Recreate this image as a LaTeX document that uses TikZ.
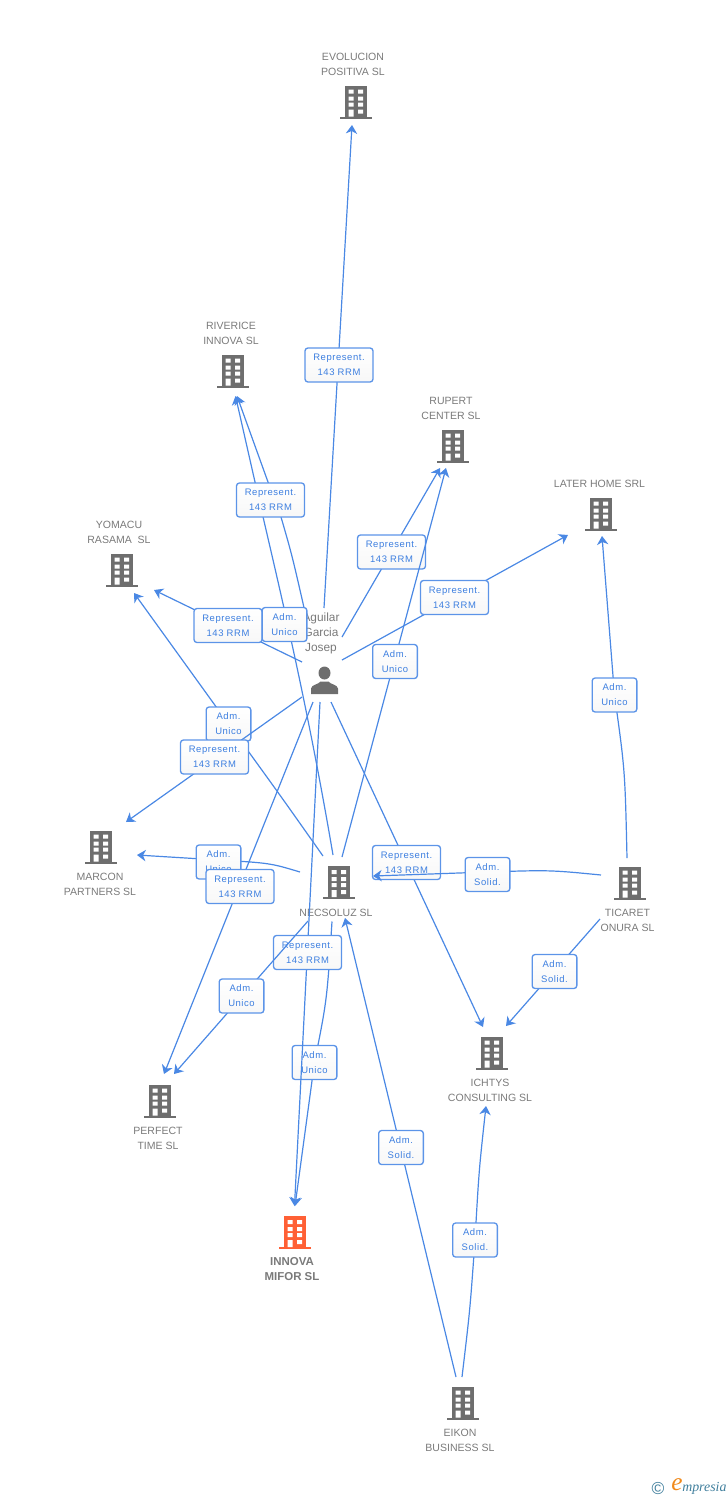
\documentclass[tikz,border=0pt]{standalone}
\usepackage{fontspec}
\setmainfont{Liberation Sans}
\newfontfamily\lblfont[LetterSpace=6]{Liberation Sans}
\newfontfamily\logofont{Liberation Serif}
\usetikzlibrary{arrows.meta,calc}
\definecolor{edgeblue}{HTML}{4A88E4}
\definecolor{textblue}{HTML}{3D7FE0}
\definecolor{boxblue}{HTML}{5C94E8}
\definecolor{capgray}{HTML}{7A7A7A}
\definecolor{icongray}{HTML}{6E6E6E}
\definecolor{iconred}{HTML}{FF6035}
\definecolor{logoteal}{HTML}{3F7E9C}
\definecolor{logoorange}{HTML}{F08A1D}
\tikzset{
  edgeline/.style={draw=edgeblue,line width=0.9pt,-{Stealth[length=6.5pt,width=8.5pt,inset=2pt]}},
  labbox/.style={draw=boxblue,line width=1pt,rounded corners=2.2pt,top color=white,bottom color=black!3,
    inner sep=0pt,minimum height=25.5pt,align=center,text=textblue,
    font=\lblfont\fontsize{7.1pt}{11.25pt}\selectfont},
  repbox/.style={labbox,minimum width=51pt},
  admbox/.style={labbox,minimum width=33.5pt},
  captxt/.style={align=center,text=capgray,inner sep=0pt,font=\fontsize{7.9pt}{11.25pt}\selectfont},
  captxtb/.style={captxt,font=\bfseries\fontsize{8.6pt}{11.25pt}\selectfont},
  captxtp/.style={captxt,font=\fontsize{8.9pt}{11.25pt}\selectfont},
  bldg/.style={inner sep=0pt,minimum width=24pt,minimum height=24.75pt,path picture={
    \begin{scope}[shift={(path picture bounding box.center)}]
      \fill[#1] (-11,-16.5) rectangle (11,14.5);
      \fill[#1] (-16,14.5) rectangle (16,16.5);
      \fill[white] (-7.5,-12.5) rectangle (-2.5,-8.5) (2,-12.5) rectangle (7,-8.5)
                   (-7.5,-5.5) rectangle (-2.5,-1.5) (2,-5.5) rectangle (7,-1.5)
                   (-7.5,0.5) rectangle (-2.5,4.5) (2,0.5) rectangle (7,4.5)
                   (-7.5,7.5) rectangle (-2.5,14.5) (2,7.5) rectangle (7,11.5);
    \end{scope}}},
  persona/.style={inner sep=0pt,minimum width=21pt,minimum height=21pt,path picture={
    \begin{scope}[shift={(path picture bounding box.center)}]
      \fill[icongray] (0,-7.5) ellipse (6 and 6.5);
      \fill[icongray] (-13.5,13.5) -- (-13.5,8) .. controls (-13,4) and (-6,4) .. (-4,1) -- (4,1)
        .. controls (6,4) and (13,4) .. (13.5,8) -- (13.5,13.5) -- cycle;
    \end{scope}}}
}
\begin{document}
\begin{tikzpicture}[x=0.75pt,y=-0.75pt]
\useasboundingbox (0,0) rectangle (728,1500);
% icons
\node[bldg=icongray] (evol) at (356,102) {};
\node[bldg=icongray] (riv) at (233,371) {};
\node[bldg=icongray] (rup) at (453,446) {};
\node[bldg=icongray] (later) at (601,514) {};
\node[bldg=icongray] (yom) at (122,570) {};
\node[bldg=icongray] (mar) at (101,847) {};
\node[bldg=icongray] (nec) at (339,882.5) {};
\node[bldg=icongray] (tic) at (630,883) {};
\node[bldg=icongray] (ich) at (492,1053) {};
\node[bldg=icongray] (per) at (160,1101) {};
\node[bldg=iconred] (inn) at (295,1232.5) {};
\node[bldg=icongray] (eik) at (463,1403) {};
\node[persona] (pers) at (324.5,680.5) {};
% captions
\node[captxt] (cevol) at (353,64) {EVOLUCION\\POSITIVA SL};
\node[captxt] (criv) at (231,333) {RIVERICE\\INNOVA SL};
\node[captxt] (crup) at (451,408) {RUPERT\\CENTER SL};
\node[captxt] (clater) at (599.5,483.5) {LATER HOME SRL};
\node[captxt] (cyom) at (119,532) {YOMACU\\RASAMA\ \ SL};
\node[captxt] (cmar) at (100,884) {MARCON\\PARTNERS SL};
\node[captxt] (cnec) at (336,912.5) {NECSOLUZ SL};
\node[captxt] (ctic) at (627.5,920) {TICARET\\ONURA SL};
\node[captxt] (cich) at (490,1090) {ICHTYS\\CONSULTING SL};
\node[captxt] (cper) at (158,1138) {PERFECT\\TIME SL};
\node[captxtb] (cinn) at (292,1269.5) {INNOVA\\MIFOR SL};
\node[captxt] (ceik) at (460,1440) {EIKON\\BUSINESS SL};
\node[captxtp] (cpers) at (321,633.5) {Aguilar\\Garcia\\Josep};
% label positions
\coordinate (pEvol) at (339,365);
\coordinate (pRiv) at (270.5,500);
\coordinate (pRup) at (391.5,552);
\coordinate (pLater) at (454.5,597.5);
\coordinate (pYom) at (228,625.5);
\coordinate (pMar) at (214.5,757);
\coordinate (pPer) at (240,886.5);
\coordinate (pIch) at (406.5,862.5);
\coordinate (pInn) at (307.5,952.5);
\coordinate (nRiv) at (284.5,624.5);
\coordinate (nRup) at (395,661.5);
\coordinate (nYom) at (228.5,724);
\coordinate (nMar) at (218.5,862);
\coordinate (nPer) at (241.5,996);
\coordinate (nInn) at (314.5,1062.5);
\coordinate (tNec) at (487.5,874.5);
\coordinate (tIch) at (554.5,971.5);
\coordinate (tLat) at (614.5,695);
\coordinate (eNec) at (401,1147.5);
\coordinate (eIch) at (475,1240);
% connectors and labels
\draw[edgeline] ($(pers)+(-0.5,-72.5)$) -- ($(evol)+(-4,23)$);
\node[repbox] (lEvol) at (pEvol) {Represent.\\143 RRM};
\draw[edgeline] ($(pers)+(-19.5,-68.5)$) .. controls (292,555) .. (281,517) -- (268,482) -- ($(riv)+(4,25)$);
\draw[edgeline] ($(nec)+(-6,-27.5)$) .. controls (305,690) and (275,570) .. (255,482) -- ($(riv)+(2.5,25)$);
\node[repbox] (lRiv) at (pRiv) {Represent.\\143 RRM};
\draw[edgeline] ($(pers)+(17.5,-43.5)$) -- ($(rup)+(-13,22)$);
\node[repbox] (lRup) at (pRup) {Represent.\\143 RRM};
\draw[edgeline] ($(pers)+(17.5,-20.5)$) -- ($(later)+(-33,21)$);
\node[repbox] (lLater) at (pLater) {Represent.\\143 RRM};
\draw[edgeline] ($(pers)+(-22.5,-18.5)$) -- ($(yom)+(32,20)$);
\node[repbox] (lYom) at (pYom) {Represent.\\143 RRM};
\node[admbox] (aRiv) at (nRiv) {Adm.\\Unico};
\draw[edgeline] ($(nec)+(3,-25.5)$) -- ($(rup)+(-7,22)$);
\node[admbox] (aRup) at (nRup) {Adm.\\Unico};
\draw[edgeline] ($(nec)+(-16,-26.5)$) .. controls (280,795) .. (nYom) -- ($(yom)+(12,23)$);
\node[admbox] (aYom) at (nYom) {Adm.\\Unico};
\draw[edgeline] ($(pers)+(-22.5,16.5)$) -- ($(mar)+(25,-25)$);
\node[repbox] (lMar) at (pMar) {Represent.\\143 RRM};
\draw[edgeline] ($(nec)+(-39,-10.5)$) .. controls (270,863) .. ($(nMar)+(0,-2)$) -- ($(mar)+(36,8)$);
\node[admbox] (aMar) at (nMar) {Adm.\\Unico};
\draw[edgeline] ($(pers)+(-11.5,21.5)$) -- ($(per)+(4,-27)$);
\node[repbox] (lPer) at (pPer) {Represent.\\143 RRM};
\draw[edgeline] ($(pers)+(6.5,21.5)$) -- ($(ich)+(-9,-26)$);
\node[repbox] (lIch) at (pIch) {Represent.\\143 RRM};
\draw[edgeline] ($(nec)+(-7,39)$) .. controls (327,1000) .. (nInn) -- ($(inn)+(0,-26.5)$);
\node[admbox] (aInn) at (nInn) {Adm.\\Unico};
\draw[edgeline] ($(pers)+(-4.5,21.5)$) -- ($(inn)+(-0.5,-26.5)$);
\node[repbox] (lInn) at (pInn) {Represent.\\143 RRM};
\draw[edgeline] ($(nec)+(-31,38.5)$) -- ($(per)+(14,-27)$);
\node[admbox] (aPer) at (nPer) {Adm.\\Unico};
\draw[edgeline] ($(tic)+(-29,-8)$) .. controls (550,870) .. ($(tNec)+(0,-2.5)$) -- ($(nec)+(34,-6.5)$);
\node[admbox] (aTNec) at (tNec) {Adm.\\Solid.};
\draw[edgeline] ($(tic)+(-30,36)$) -- ($(ich)+(14,-27)$);
\node[admbox] (aTIch) at (tIch) {Adm.\\Solid.};
\draw[edgeline] ($(tic)+(-3,-25)$) .. controls (625,770) .. (tLat) -- ($(later)+(1,22)$);
\node[admbox] (aTLat) at (tLat) {Adm.\\Unico};
\draw[edgeline] ($(eik)+(-7,-26)$) -- ($(nec)+(6,35.5)$);
\node[admbox] (aENec) at (eNec) {Adm.\\Solid.};
\draw[edgeline] ($(eik)+(-1,-26)$) .. controls (470,1310) .. (eIch) .. controls (479,1170) .. ($(ich)+(-6,53)$);
\node[admbox] (aEIch) at (eIch) {Adm.\\Solid.};
% logo
\node[inner sep=0pt,text=logoteal,font=\fontsize{13pt}{13pt}\selectfont] (logoc) at (658,1488.5) {©};
\node[inner sep=0pt,text=logoorange,font=\logofont\itshape\fontsize{19pt}{19pt}\selectfont] (logoe) at (677,1485) {e};
\node[inner sep=0pt,anchor=west,text=logoteal,font=\logofont\itshape\fontsize{10.4pt}{10.4pt}\selectfont] (logot) at (682,1488.5) {mpresia};
\end{tikzpicture}
\end{document}
